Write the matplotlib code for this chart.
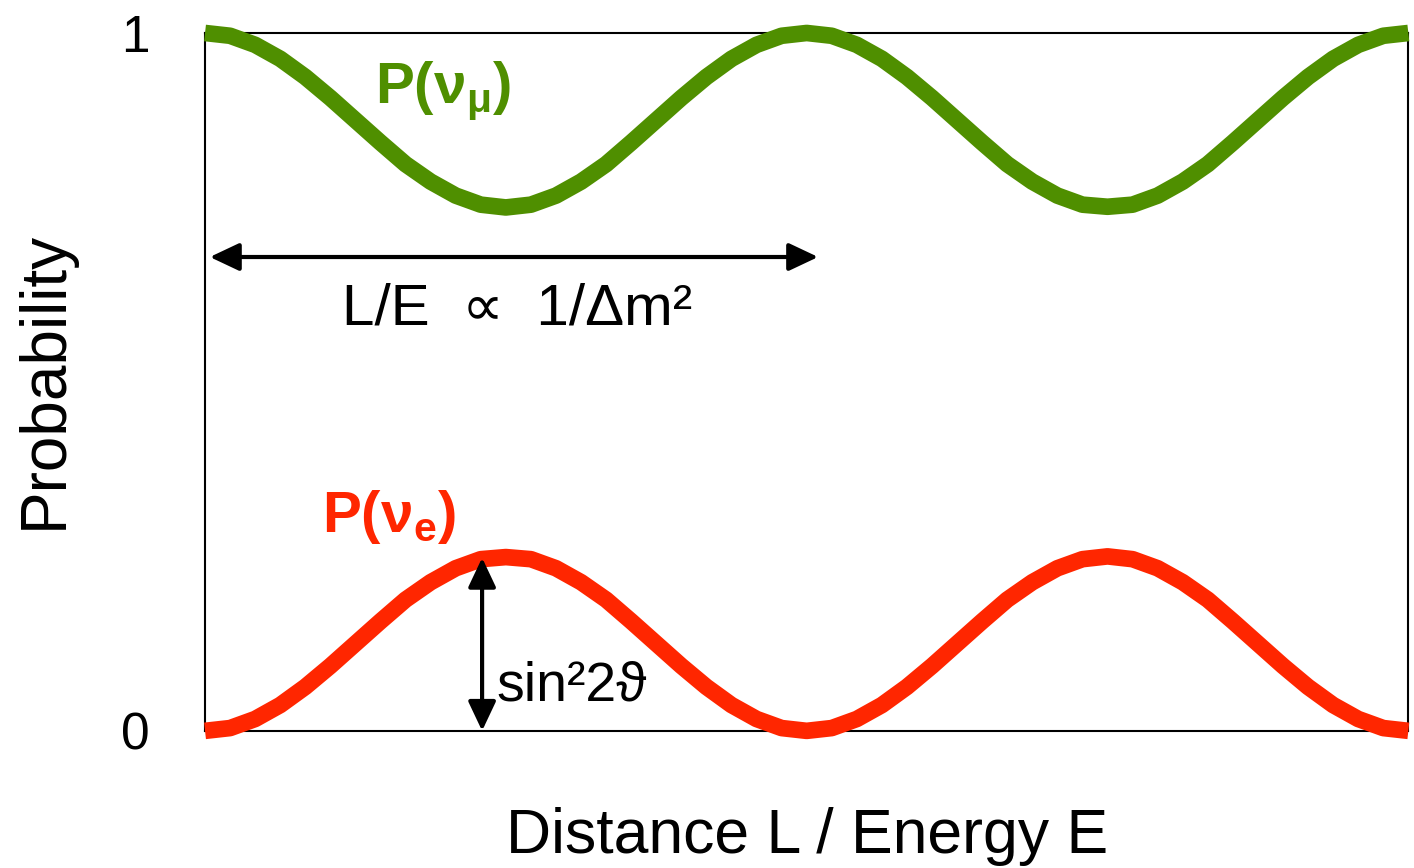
import numpy as np
import matplotlib
matplotlib.use("Agg")
import matplotlib.pyplot as plt

plt.rcParams["font.family"] = ["Liberation Sans", "DejaVu Sans"]
plt.rcParams["mathtext.fontset"] = "custom"
plt.rcParams["mathtext.rm"] = "Liberation Sans"
plt.rcParams["mathtext.bf"] = "Liberation Sans:bold"

# L/E in units of one oscillation length (two full periods shown)
distance = np.linspace(0, 2, 49)

# values
p_mu = [1.000, 0.996, 0.983, 0.963, 0.937, 0.907, 0.875, 0.843, 0.812,
        0.787, 0.767, 0.754, 0.750, 0.754, 0.767, 0.787, 0.812, 0.843,
        0.875, 0.907, 0.937, 0.963, 0.983, 0.996, 1.000,
        0.996, 0.983, 0.963, 0.937, 0.907, 0.875, 0.843, 0.812, 0.787,
        0.767, 0.754, 0.751, 0.754, 0.767, 0.787, 0.812, 0.843, 0.875,
        0.907, 0.937, 0.963, 0.983, 0.996, 1.000]
p_e = [0.000, 0.004, 0.017, 0.037, 0.063, 0.093, 0.125, 0.157, 0.188,
       0.213, 0.233, 0.246, 0.249, 0.246, 0.233, 0.213, 0.188, 0.157,
       0.125, 0.093, 0.063, 0.037, 0.017, 0.004, 0.000,
       0.004, 0.017, 0.037, 0.063, 0.093, 0.125, 0.157, 0.188, 0.213,
       0.233, 0.246, 0.250, 0.246, 0.233, 0.213, 0.188, 0.157, 0.125,
       0.093, 0.063, 0.037, 0.017, 0.004, 0.000]

GREEN = "#4F8F00"
RED = "#FF2600"

fig = plt.figure(figsize=(14.14, 8.68), dpi=100)
ax = fig.add_axes([0.145, 0.158, 0.851, 0.804])

curve_style = dict(lw=12, solid_capstyle="butt", solid_joinstyle="round",
                   clip_on=False, zorder=3)
ax.plot(distance, p_mu, color=GREEN, **curve_style)
ax.plot(distance, p_e, color=RED, **curve_style)

ax.set_xlim(0, 2)
ax.set_ylim(0, 1)
for s in ax.spines.values():
    s.set_linewidth(1.5)
    s.set_color("black")

ax.set_xticks([])
ax.set_yticks([0, 1])
ax.set_yticklabels(["0", "1"], fontsize=37)
ax.tick_params(axis="y", length=0, pad=40)

ax.set_xlabel("Distance L / Energy E", fontsize=45, labelpad=55)
ax.set_ylabel("Probability", fontsize=46)
ax.yaxis.set_label_coords(-0.108, 0.503)

# curve labels
ax.text(0.283, 0.90, r"$\mathbf{P(ν_{μ})}$", color=GREEN, fontsize=42)
ax.text(0.195, 0.285, r"$\mathbf{P(ν_{e})}$", color=RED, fontsize=42)

arrow = dict(arrowstyle="<|-|>,head_length=1.8,head_width=0.85",
             color="black", lw=3, shrinkA=0, shrinkB=0, mutation_scale=10)

# oscillation length arrow
ax.annotate("", xy=(0.008, 0.679), xytext=(1.019, 0.679), arrowprops=arrow)
ax.text(0.228, 0.582, "L/E  ∝  1/Δm²", fontsize=42)

# amplitude arrow
ax.annotate("", xy=(0.4605, 0.0), xytext=(0.4605, 0.248), arrowprops=arrow)
ax.text(0.485, 0.044, "sin²2ϑ", fontsize=40)

fig.savefig("out.png", dpi=100)
